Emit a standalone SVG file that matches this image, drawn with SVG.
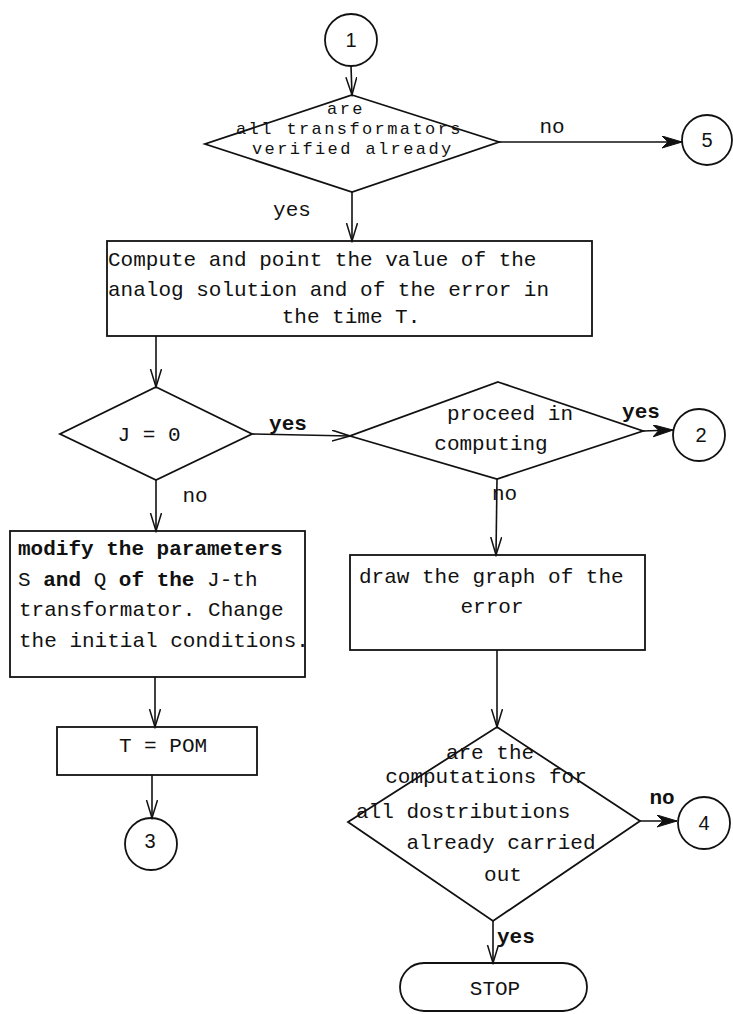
<svg xmlns="http://www.w3.org/2000/svg" width="733" height="1014" viewBox="0 0 733 1014">
<defs>
<style>
.s{fill:none;stroke:#111;stroke-width:1.8;stroke-linejoin:miter}
.t{font-family:"Liberation Mono","DejaVu Sans Mono",monospace;font-size:21px;fill:#111}
.sm{font-size:17px;letter-spacing:2.4px}
.b{font-weight:bold}
.d{font-family:"Liberation Sans",Arial,sans-serif;font-size:20px;fill:#111;text-anchor:middle}
.m{text-anchor:middle}
.c{fill:none;stroke:#111;stroke-width:1.6}
</style>
<marker id="a" markerUnits="userSpaceOnUse" markerWidth="20" markerHeight="14" refX="18" refY="6" orient="auto">
<path d="M0,0.5 L18,6 L0,11.5" fill="none" stroke="#111" stroke-width="1.5"/>
</marker>
<marker id="ab" markerUnits="userSpaceOnUse" markerWidth="22" markerHeight="14" refX="20" refY="6" orient="auto">
<path d="M0,0 L20,6 L0,12 L6,6 Z" fill="#111" stroke="#111" stroke-width="1"/>
</marker>
</defs>
<rect width="733" height="1014" fill="#fff"/>

<g id="connectors">
<line class="c" x1="351" y1="66" x2="352" y2="95" marker-end="url(#a)"/>
<line class="c" x1="499" y1="142" x2="682" y2="142" marker-end="url(#ab)"/>
<line class="c" x1="352" y1="192" x2="352" y2="241" marker-end="url(#a)"/>
<line class="c" x1="156" y1="336" x2="156" y2="387" marker-end="url(#a)"/>
<line class="c" x1="252" y1="434" x2="350" y2="436" marker-end="url(#a)"/>
<line class="c" x1="643" y1="431" x2="673" y2="430" marker-end="url(#ab)"/>
<line class="c" x1="156" y1="480" x2="156" y2="531" marker-end="url(#a)"/>
<line class="c" x1="497" y1="479" x2="496" y2="555" marker-end="url(#a)"/>
<line class="c" x1="155" y1="677" x2="155" y2="727" marker-end="url(#a)"/>
<line class="c" x1="152" y1="775" x2="152" y2="818" marker-end="url(#a)"/>
<line class="c" x1="497" y1="650" x2="497" y2="727" marker-end="url(#a)"/>
<line class="c" x1="640" y1="821" x2="677" y2="821" marker-end="url(#ab)"/>
<line class="c" x1="493" y1="921" x2="493" y2="963" marker-end="url(#a)"/>
<text class="t m" x="552" y="133">no</text>
<text class="t m" x="292" y="216">yes</text>
<text class="t m b" x="288" y="430">yes</text>
<text class="t m" x="195" y="502">no</text>
<text class="t m b" x="641" y="418">yes</text>
<text class="t" x="492" y="500">no</text>
<text class="t m b" x="662" y="804">no</text>
<text class="t b" x="497" y="943">yes</text>
</g>

<g id="c1"><circle class="s" cx="351" cy="40" r="26"/><text class="d" x="351" y="47">1</text></g>

<g id="d1">
<polygon class="s" points="352,95 499,142 352,192 205,144"/>
<text class="t sm m" x="346" y="114">are</text>
<text class="t sm" x="236" y="134">all transformators</text>
<text class="t sm" x="252" y="154">verified already</text>
</g>

<g id="c5"><circle class="s" cx="707" cy="140" r="25"/><text class="d" x="707" y="147">5</text></g>

<g id="box1">
<rect class="s" x="107" y="241" width="485" height="95"/>
<text class="t" x="108" y="266">Compute and point the value of the</text>
<text class="t" x="108" y="296">analog solution and of the error in</text>
<text class="t m" x="351" y="323">the time T.</text>
</g>

<g id="dJ">
<polygon class="s" points="156,387 252,434 156,480 60,434"/>
<text class="t m" x="149" y="441">J = 0</text>
</g>

<g id="dP">
<polygon class="s" points="498,382 643,431 497,479 350,436"/>
<text class="t m" x="510" y="420">proceed in</text>
<text class="t m" x="491" y="450">computing</text>
</g>

<g id="c2"><circle class="s" cx="699" cy="435" r="26"/><text class="d" x="701" y="442">2</text></g>

<g id="box2">
<rect class="s" x="10" y="531" width="295" height="146"/>
<text class="t b" x="18" y="555">modify the parameters</text>
<text class="t" x="18" y="586">S <tspan class="b">and</tspan> Q <tspan class="b">of the</tspan> J-th</text>
<text class="t" x="19" y="616">transformator. Change</text>
<text class="t" x="19" y="647">the initial conditions.</text>
</g>

<g id="box3">
<rect class="s" x="57" y="727" width="200" height="48"/>
<text class="t m" x="163" y="752">T = POM</text>
</g>

<g id="c3"><circle class="s" cx="151" cy="844" r="26"/><text class="d" x="150" y="848">3</text></g>

<g id="box4">
<rect class="s" x="350" y="555" width="295" height="95"/>
<text class="t" x="359" y="583">draw the graph of the</text>
<text class="t m" x="492" y="613">error</text>
</g>

<g id="d3">
<polygon class="s" points="497,727 640,821 493,921 348,822"/>
<text class="t m" x="490" y="759">are the</text>
<text class="t m" x="486" y="783">computations for</text>
<text class="t" x="356" y="818">all dostributions</text>
<text class="t m" x="501" y="849">already carried</text>
<text class="t m" x="503" y="881">out</text>
</g>

<g id="c4"><circle class="s" cx="704" cy="823" r="26"/><text class="d" x="704" y="830">4</text></g>

<g id="stop">
<rect class="s" x="400" y="963" width="187" height="48" rx="24" ry="24"/>
<text class="t m" x="495" y="995">STOP</text>
</g>
</svg>
